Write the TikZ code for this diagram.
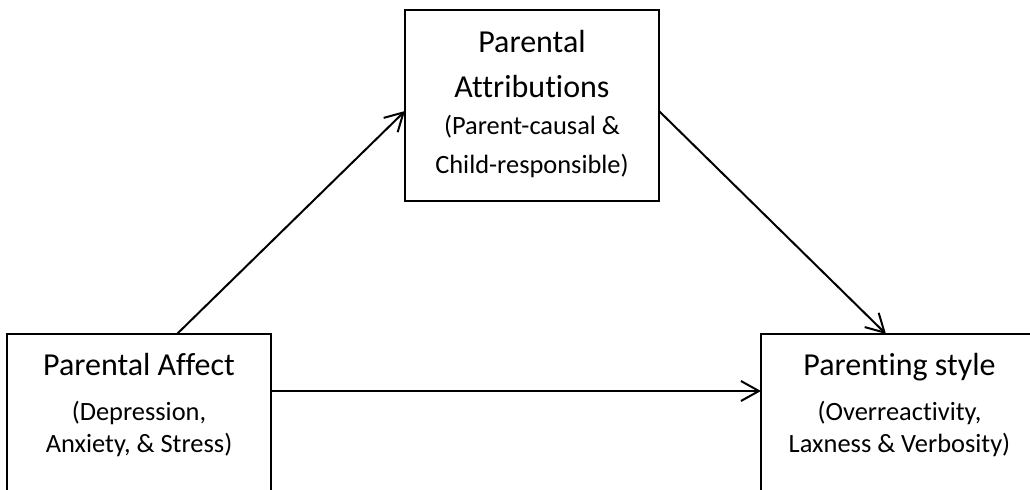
\documentclass[tikz,border=0pt]{standalone}
\usepackage{fontspec}
\setmainfont{Carlito}[Ligatures=NoCommon]
\usetikzlibrary{arrows.meta,calc}
\begin{document}
\begin{tikzpicture}[x=0.5pt,y=-0.5pt,
  box/.style={draw,line width=1pt,rectangle,inner sep=0pt,outer sep=0pt,anchor=north west},
  ttl/.style={anchor=base,font=\fontsize{16}{19}\selectfont,inner sep=0pt},
  sub/.style={anchor=base,font=\fontsize{13.2}{16}\selectfont,inner sep=0pt},
  link/.style={line width=1pt,-{Straight Barb[length=9pt,width=10pt,line width=1pt]}}]
\useasboundingbox (0,0) rectangle (1030,489);
\clip (0,0) rectangle (1030,489);

% boxes (the lower two run past the bottom of the page)
\node[box,minimum width=132pt,minimum height=150pt] (affect) at (7,334) {};
\node[box,minimum width=127pt,minimum height=95.5pt] (attrib) at (405,10) {};
\node[box,minimum width=138.5pt,minimum height=150pt] (style) at (761,334) {};

% box texts
\node[ttl] (affectA) at (139,375) {Parental Affect};
\node[sub] (affectB) at (139,420) {(Depression,};
\node[sub] (affectC) at (139,452) {Anxiety, \& Stress)};

\node[ttl] (attribA) at (532,52) {Parental};
\node[ttl] (attribB) at (532,97) {Attributions};
\node[sub] (attribC) at (532,134) {(Parent-causal \&};
\node[sub] (attribD) at (532,173) {Child-responsible)};

\node[ttl] (styleA) at (899.5,375) {Parenting style};
\node[sub] (styleB) at (899.5,420) {(Overreactivity,};
\node[sub] (styleC) at (899.5,452) {Laxness \& Verbosity)};

% connector end points
\coordinate (affectUp) at ($(affect.north west)+(170,0)$);
\coordinate (affectRight) at ($(affect.north east)+(0,57)$);
\coordinate (attribIn) at ($(attrib.north west)+(0,101)$);
\coordinate (attribOut) at ($(attrib.north east)+(0,101)$);
\coordinate (styleTop) at ($(style.north west)+(125,0)$);
\coordinate (styleLeft) at ($(style.north west)+(0,57)$);

\draw[link] (affectUp) -- (attribIn);
\draw[link] (attribOut) -- (styleTop);
\draw[link] (affectRight) -- (styleLeft);
\end{tikzpicture}
\end{document}
